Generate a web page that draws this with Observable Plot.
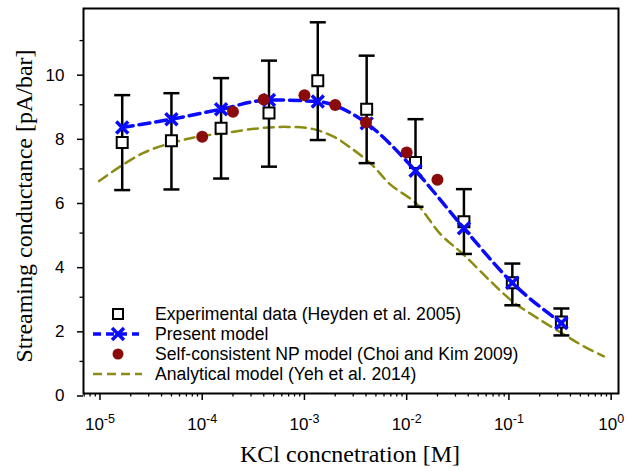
<!DOCTYPE html>
<html><head><meta charset="utf-8">
<script src="https://cdn.jsdelivr.net/npm/d3@7"></script>
<script src="https://cdn.jsdelivr.net/npm/@observablehq/plot@0.6"></script>
<style>
html,body{margin:0;padding:0;background:#fff;}
#chart{width:627px;height:471px;}
</style></head><body><div id="chart"></div>
<script>
// Experimental data (Heyden et al. 2005)
const expConc = [1.65e-5, 5.0e-5, 1.53e-4, 4.5e-4, 1.35e-3, 4.06e-3, 1.22e-2, 3.63e-2, 0.108, 0.326];
const expVal  = [7.82, 7.875, 8.27, 8.74, 9.75, 8.86, 7.20, 5.35, 3.45, 2.23];
const expHi   = [9.30, 9.36, 9.83, 10.375, 11.57, 10.53, 8.55, 6.37, 4.05, 2.65];
const expLo   = [6.34, 6.36, 6.70, 7.07, 7.90, 7.18, 5.82, 4.35, 2.75, 1.81];
// Present model
const presentVal = [8.29, 8.55, 8.86, 9.15, 9.10, 8.42, 6.94, 5.15, 3.45, 2.20];
// Self-consistent NP model (Choi and Kim 2009)
const npConc = [1e-4, 2e-4, 4e-4, 1e-3, 2e-3, 4e-3, 1e-2, 2e-2];
const npVal  = [8.0, 8.78, 9.16, 9.30, 8.99, 8.45, 7.51, 6.66];
// Analytical model (Yeh et al. 2014)
const anConc = [9.8e-6, 2.7e-5, 8.3e-5, 1.5e-4, 3.7e-4, 6.8e-4, 1.23e-3, 2.0e-3, 2.8e-3, 4.5e-3, 6.9e-3, 1.26e-2, 2.15e-2, 3.6e-2, 6.6e-2, 0.108, 0.19, 0.35, 0.54, 0.85];
const anVal  = [6.62, 7.51, 7.98, 8.10, 8.27, 8.31, 8.24, 7.98, 7.67, 7.15, 6.52, 5.90, 4.96, 4.33, 3.50, 2.875, 2.35, 1.83, 1.47, 1.16];
// Ticks
const xMajor = [1e-5, 1e-4, 1e-3, 1e-2, 1e-1, 1e0];
const xMinor = [7e-6, 8e-6, 9e-6,
  2e-5,3e-5,4e-5,5e-5,6e-5,7e-5,8e-5,9e-5,
  2e-4,3e-4,4e-4,5e-4,6e-4,7e-4,8e-4,9e-4,
  2e-3,3e-3,4e-3,5e-3,6e-3,7e-3,8e-3,9e-3,
  2e-2,3e-2,4e-2,5e-2,6e-2,7e-2,8e-2,9e-2,
  0.2,0.3,0.4,0.5,0.6,0.7,0.8,0.9];
const yMajor = [0, 2, 4, 6, 8, 10];
const yMinor = [1, 3, 5, 7, 9, 11];
const legendLabels = ["Experimental data (Heyden et al. 2005)", "Present model", "Self-consistent NP model (Choi and Kim 2009)", "Analytical model (Yeh et al. 2014)"];
const xTitle = "KCl concnetration [M]";
const yTitle = "Streaming conductance [pA/bar]";

const BLUE = "#0a0aff", RED = "#8b0a0a", OLIVE = "#8c8c14";

const exp = expConc.map((c, i) => ({c, v: expVal[i], hi: expHi[i], lo: expLo[i], p: presentVal[i]}));
const np = npConc.map((c, i) => ({c, v: npVal[i]}));
const an = anConc.map((c, i) => ({c, v: anVal[i]}));

const capSymbol = {draw(ctx, size) { const r = Math.sqrt(size / Math.PI); ctx.moveTo(-r, 0); ctx.lineTo(r, 0); }};

const W = 627, H = 471;
const plot = Plot.plot({
  width: W, height: H, marginLeft: 83, marginRight: 9, marginTop: 8, marginBottom: 78,
  style: {fontFamily: "'Liberation Sans', Arial, sans-serif", fontSize: "17px", color: "black", background: "white", overflow: "visible"},
  x: {type: "log", domain: [6.9e-6, 1.18]},
  y: {domain: [0, 12]},
  marks: [
    Plot.axisX({ticks: xMinor, tickSize: 3.5, tickFormat: () => "", label: null, strokeWidth: 1.3}),
    Plot.axisX({ticks: xMajor, tickSize: 7, tickPadding: 17, tickFormat: d => "10^" + Math.round(Math.log10(d)), label: null, strokeWidth: 1.5}),
    Plot.axisY({ticks: yMinor, tickSize: 3.5, tickFormat: () => "", label: null, strokeWidth: 1.3}),
    Plot.axisY({ticks: yMajor, tickSize: 6, tickPadding: 13, dy: 2.5, label: null, strokeWidth: 1.5}),
    Plot.line(an, {x: "c", y: "v", curve: "catmull-rom", stroke: OLIVE, strokeWidth: 2.5, strokeDasharray: "10,6"}),
    Plot.ruleX(exp, {x: "c", y1: "lo", y2: "hi", stroke: "black", strokeWidth: 2.5}),
    Plot.dot(exp, {x: "c", y: "hi", symbol: capSymbol, r: 8, stroke: "black", strokeWidth: 2.5}),
    Plot.dot(exp, {x: "c", y: "lo", symbol: capSymbol, r: 8, stroke: "black", strokeWidth: 2.5}),
    Plot.dot(exp, {x: "c", y: "v", symbol: "square", r: 6.2, stroke: "black", fill: "white", strokeWidth: 2}),
    Plot.line(exp, {x: "c", y: "p", curve: "monotone-x", stroke: BLUE, strokeWidth: 3.5, strokeDasharray: "11,6"}),
    Plot.dot(exp, {x: "c", y: "p", symbol: "times", r: 5.5, stroke: BLUE, strokeWidth: 3.5}),
    Plot.dot(np, {x: "c", y: "v", r: 6, fill: RED, stroke: "none"}),
    Plot.frame({stroke: "black", strokeWidth: 2})
  ]
});
document.getElementById("chart").appendChild(plot);

const svg = d3.select(plot);
// superscript tick labels
svg.selectAll('g[aria-label="x-axis tick label"] text').each(function() {
  const s = this.textContent;
  if (!s.startsWith("10^")) return;
  const e = s.slice(3);
  this.textContent = "";
  const t = d3.select(this);
  t.append("tspan").text("10");
  t.append("tspan").attr("dy", "-0.5em").attr("font-size", "12.5px").text(e);
});

// axis titles
svg.append("text").attr("x", 350).attr("y", 462).attr("text-anchor", "middle")
  .attr("font-family", "'Liberation Serif', 'Times New Roman', serif").attr("font-size", 24).attr("fill", "black").text(xTitle);
svg.append("text").attr("transform", "translate(32,206) rotate(-90)").attr("text-anchor", "middle")
  .attr("font-family", "'Liberation Serif', 'Times New Roman', serif").attr("font-size", 24).attr("fill", "black").text(yTitle);

// legend
const lg = svg.append("g").attr("font-size", 17.6).attr("font-family", "'Liberation Sans', Arial, sans-serif").attr("text-anchor", "start");
const ys = [314, 334, 354, 374];
const sx = 118;
lg.append("path").attr("transform", `translate(${sx},${ys[0]})`).attr("d", d3.symbol(d3.symbolSquare, 100)()).attr("fill", "white").attr("stroke", "black").attr("stroke-width", 2);
lg.append("line").attr("x1", 93).attr("x2", 139).attr("y1", ys[1]).attr("y2", ys[1]).attr("stroke", BLUE).attr("stroke-width", 3.5).attr("stroke-dasharray", "8,5");
lg.append("path").attr("transform", `translate(${sx},${ys[1]})`).attr("d", d3.symbol(d3.symbolTimes, 95)()).attr("fill", "none").attr("stroke", BLUE).attr("stroke-width", 3.5);
lg.append("circle").attr("cx", sx).attr("cy", ys[2]).attr("r", 5.5).attr("fill", RED);
lg.append("line").attr("x1", 93).attr("x2", 142).attr("y1", ys[3]).attr("y2", ys[3]).attr("stroke", OLIVE).attr("stroke-width", 2.5).attr("stroke-dasharray", "9,5");
legendLabels.forEach((t, i) => {
  lg.append("text").attr("x", 155).attr("y", ys[i]).attr("dy", "0.36em").attr("text-anchor", "start").attr("fill", "black").text(t);
});
</script></body></html>
